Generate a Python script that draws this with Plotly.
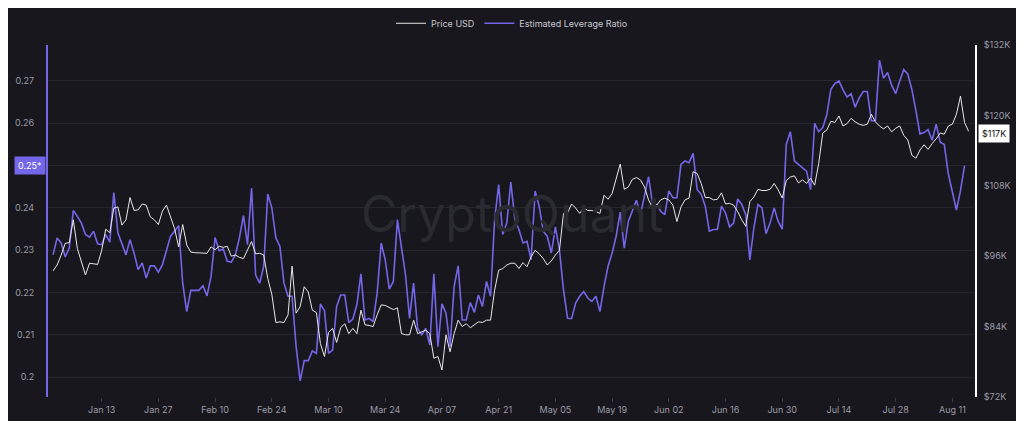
import pandas as pd
import plotly.graph_objects as go

# Estimated leverage ratio, daily from Jan 1 2025
leverage = [
    0.2289, 0.2329, 0.2317, 0.2284, 0.2305, 0.2394, 0.2380, 0.2364, 0.2337, 0.2331,
    0.2345, 0.2315, 0.2313, 0.2337, 0.2319, 0.2436, 0.2341, 0.2313, 0.2289, 0.2325,
    0.2293, 0.2254, 0.2270, 0.2234, 0.2263, 0.2263, 0.2248, 0.2266, 0.2301, 0.2333,
    0.2345, 0.2358, 0.2222, 0.2155, 0.2205, 0.2205, 0.2205, 0.2216, 0.2192, 0.2238,
    0.2330, 0.2299, 0.2303, 0.2274, 0.2272, 0.2289, 0.2329, 0.2382, 0.2313, 0.2447,
    0.2242, 0.2222, 0.2262, 0.2433, 0.2400, 0.2329, 0.2309, 0.2222, 0.2191, 0.2191,
    0.2072, 0.1991, 0.2039, 0.2039, 0.2062, 0.2056, 0.2173, 0.2157, 0.2056, 0.2064,
    0.2167, 0.2194, 0.2194, 0.2129, 0.2137, 0.2171, 0.2244, 0.2135, 0.2139, 0.2131,
    0.2198, 0.2317, 0.2277, 0.2208, 0.2226, 0.2372, 0.2305, 0.2242, 0.2139, 0.2222,
    0.2115, 0.2100, 0.2115, 0.2076, 0.2244, 0.2072, 0.2173, 0.2151, 0.2072, 0.2214,
    0.2263, 0.2135, 0.2135, 0.2176, 0.2153, 0.2194, 0.2167, 0.2226, 0.2191, 0.2372,
    0.2455, 0.2337, 0.2364, 0.2461,
    0.2372, 0.2349, 0.2317, 0.2321, 0.2277, 0.2440, 0.2404, 0.2345, 0.2333, 0.2293,
    0.2355, 0.2301, 0.2206, 0.2139, 0.2138, 0.2175, 0.2191, 0.2202, 0.2187, 0.2179,
    0.2191, 0.2155, 0.2214, 0.2262, 0.2293, 0.2333, 0.2390, 0.2305, 0.2368, 0.2392,
    0.2418, 0.2384, 0.2432, 0.2474, 0.2408, 0.2408, 0.2392, 0.2384, 0.2440, 0.2424,
    0.2424, 0.2503, 0.2511, 0.2507, 0.2529, 0.2443, 0.2432, 0.2404, 0.2345, 0.2349,
    0.2349, 0.2404, 0.2388, 0.2355, 0.2364, 0.2421, 0.2408, 0.2384, 0.2277, 0.2353,
    0.2408, 0.2400, 0.2339, 0.2364, 0.2400, 0.2368, 0.2350, 0.2550,
    0.2580, 0.2511, 0.2503, 0.2495, 0.2487, 0.2443, 0.2600, 0.2580, 0.2590, 0.2620,
    0.2680, 0.2694, 0.2700, 0.2679, 0.2662, 0.2670, 0.2638, 0.2660, 0.2675, 0.2675,
    0.2606, 0.2606, 0.2749, 0.2706, 0.2720, 0.2690, 0.2670, 0.2700, 0.2727, 0.2716,
    0.2680, 0.2630, 0.2575, 0.2578, 0.2585, 0.2560, 0.2598, 0.2555, 0.2550, 0.2480,
    0.2440, 0.2395, 0.2440, 0.2500,
]

# BTC price, thousands of USD, daily from Jan 1 2025
price = [
    93.5, 94.5, 96.2, 98.2, 98.3, 102.2, 97.3, 95.1, 92.8, 94.8,
    94.7, 94.6, 97.0, 100.6, 100.0, 104.2, 104.4, 101.3, 102.2, 106.0,
    103.8, 103.9, 104.9, 104.7, 102.7, 102.2, 101.4, 103.7, 104.7, 102.5,
    100.7, 97.6, 101.4, 97.9, 96.7, 96.6, 96.6, 96.6, 96.5, 97.6,
    97.1, 97.7, 97.5, 97.7, 96.0, 96.2, 95.8, 95.6, 97.0, 98.5,
    96.4, 96.5, 96.2, 92.2, 89.5, 84.7, 84.8, 84.7, 86.0, 94.3,
    86.3, 87.4, 90.8, 89.9, 86.8, 86.4, 81.1, 78.9, 83.0, 83.7,
    81.3, 83.8, 84.5, 82.8, 83.7, 82.8, 86.8, 84.3, 84.2, 84.0,
    86.0, 87.7, 87.6, 87.2, 86.9, 87.2, 82.8, 82.6, 82.6, 85.1,
    82.8, 83.1, 83.4, 82.8, 78.6, 78.9, 76.6, 82.6, 79.7, 82.8,
    85.1, 84.0, 84.5, 83.8, 84.3, 84.8, 84.7, 85.1, 85.1, 90.2,
    93.6, 93.9, 94.5, 94.8,
    94.8, 93.9, 94.9, 94.2, 95.9, 97.0, 96.4, 95.6, 94.5, 95.2,
    96.2, 97.0, 103.3, 103.4, 104.9, 104.2, 103.3, 104.2, 103.8, 103.8,
    103.6, 103.3, 106.4, 105.7, 106.7, 109.1, 111.7, 107.4, 107.8, 109.1,
    109.4, 109.0, 107.8, 105.6, 104.2, 104.7, 105.6, 105.9, 105.6, 104.7,
    101.9, 104.4, 105.6, 105.9, 110.4, 110.1, 108.4, 106.0, 106.0, 105.6,
    105.7, 106.8, 104.9, 105.0, 104.7, 103.6, 102.2, 101.1, 105.3, 106.1,
    107.4, 107.2, 107.2, 107.4, 108.4, 107.3, 105.9, 108.9,
    109.5, 109.7, 108.5, 109.0, 108.4, 109.3, 108.1, 111.8, 117.0, 117.5,
    119.0, 118.8, 119.9, 118.2, 118.6, 119.5, 118.9, 118.5, 118.3, 118.5,
    120.2, 118.9, 118.2, 117.7, 118.2, 117.2, 117.8, 118.2, 116.6, 115.8,
    113.2, 112.7, 114.1, 115.0, 114.2, 115.2, 116.0, 117.0, 116.8, 118.2,
    118.5, 120.2, 123.3, 118.8, 117.3,
]

lev_dates = pd.date_range("2025-01-01", periods=len(leverage))
price_dates = pd.date_range("2025-01-01", periods=len(price))

lev_ticks = [0.2, 0.21, 0.22, 0.23, 0.24, 0.25, 0.26, 0.27]
price_ticks = [72, 84, 96, 108, 120, 132]
price_labels = [f"${v}K" for v in price_ticks]

bg = "#17171d"
purple = "#7466e8"
grid = "#26262e"
font_col = "#9b9ba6"

fig = go.Figure()
fig.add_trace(go.Scatter(x=price_dates, y=price, name="Price USD", yaxis="y2",
                         mode="lines", line=dict(color="#e8e8ea", width=1)))
fig.add_trace(go.Scatter(x=lev_dates, y=leverage, name="Estimated Leverage Ratio",
                         mode="lines", line=dict(color=purple, width=1.6)))

# page body has an 8px margin, so the figure is sized to fit inside the window
fig.update_layout(
    width=1008, height=413,
    paper_bgcolor=bg, plot_bgcolor=bg,
    margin=dict(l=40, r=41, t=37, b=24, autoexpand=False),
    font=dict(family="Inter", size=9, color=font_col),
    showlegend=True,
    legend=dict(orientation="h", x=0.5, xanchor="center", xref="container",
                y=0.963, yanchor="middle", yref="container",
                font=dict(size=9, color="#c8c8d0"), bgcolor="rgba(0,0,0,0)"),
    xaxis=dict(range=["2024-12-30 18:00", "2025-08-16 14:00"],
               tickvals=pd.date_range("2025-01-13", "2025-08-11", freq="14D"),
               tickformat="%b %d", showgrid=False, ticks="outside",
               tickcolor="#3a3a44", ticklen=4, zeroline=False, showline=False),
    yaxis=dict(range=[0.1953, 0.2785], tickvals=lev_ticks,
               ticktext=[("" if v == 0.25 else f"{v:g}") for v in lev_ticks],
               gridcolor=grid, zeroline=False, showline=True, linecolor=purple,
               linewidth=2, ticklabelstandoff=10),
    yaxis2=dict(range=[72, 132], tickvals=price_ticks, ticktext=price_labels,
                overlaying="y", side="right", showgrid=False, zeroline=False,
                showline=True, linecolor="#ffffff", linewidth=2, ticklabelstandoff=5),
)

fig.add_annotation(text="CryptoQuant", x=0.5, y=0.52, xref="paper", yref="paper",
                   showarrow=False, font=dict(size=50, color="#2a2a31", family="Inter"))
fig.add_annotation(text="0.25*", x=0, y=0.25, xref="paper", yref="y", xanchor="right",
                   xshift=-2, showarrow=False, bgcolor=purple,
                   font=dict(size=9, color="#ffffff"), borderpad=3)
fig.add_annotation(text="$117K", x=1, y=117, xref="paper", yref="y2", xanchor="left",
                   xshift=3, showarrow=False, bgcolor="#ffffff",
                   font=dict(size=9, color="#111111"), borderpad=3)

fig.write_html("out.html")
